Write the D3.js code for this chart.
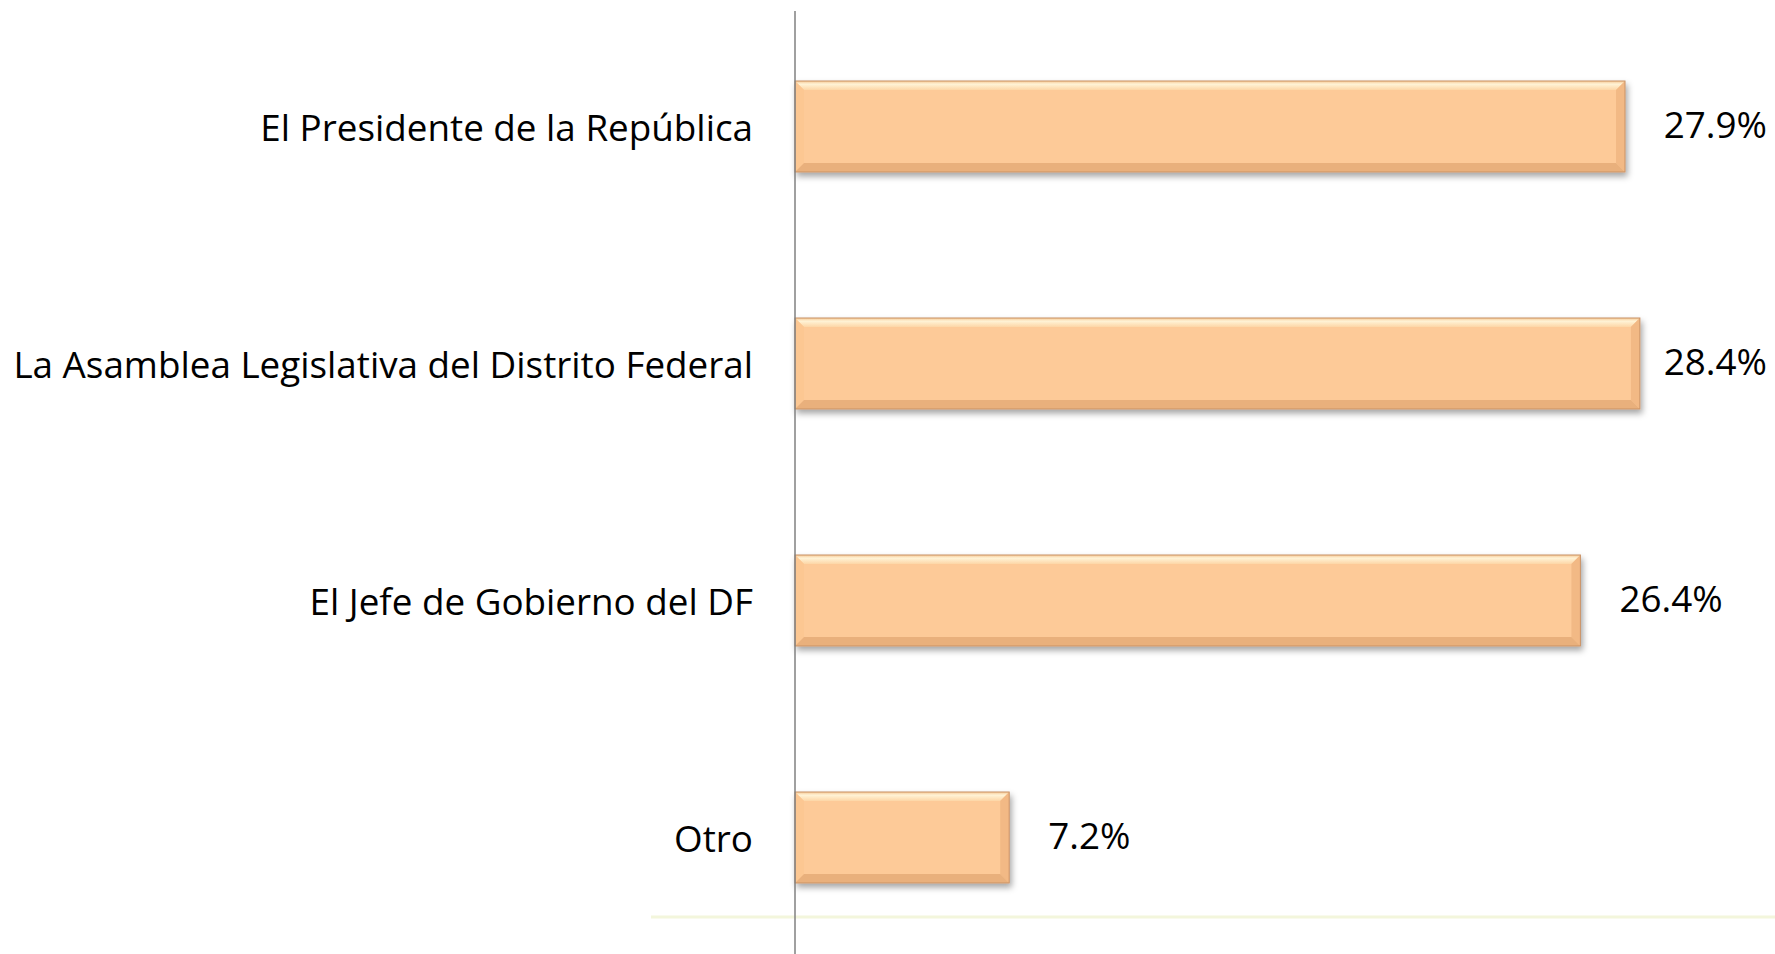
<!DOCTYPE html>
<html>
<head>
<meta charset="utf-8">
<script src="https://cdn.jsdelivr.net/npm/d3@7"></script>
<style>
  body { margin: 0; background: #fff; }
  svg { display: block; }
  text { font-family: "Open Sans", "Noto Sans", sans-serif; fill: #000; }
</style>
</head>
<body>
<div id="chart"></div>
<script>
const categories = ["El Presidente de la República", "La Asamblea Legislativa del Distrito Federal",
  "El Jefe de Gobierno del DF", "Otro"];
const values = [27.9, 28.4, 26.4, 7.2];
const valueLabels = ["27.9%", "28.4%", "26.4%", "7.2%"];

let width = 1775,
    height = 954,
    axis_x = 795,
    bevel = 9;

const svg = d3.select("#chart")
  .append("svg")
  .attr("width", width)
  .attr("height", height);

const defs = svg.append("defs");
const shadow = defs.append("filter").attr("id", "shadow")
  .attr("x", "-5%").attr("y", "-10%").attr("width", "115%").attr("height", "135%");
shadow.append("feDropShadow")
  .attr("dx", 2).attr("dy", 4).attr("stdDeviation", 3)
  .attr("flood-color", "#000").attr("flood-opacity", 0.35);

const topGrad = defs.append("linearGradient").attr("id", "topGrad")
  .attr("x1", 0).attr("y1", 0).attr("x2", 0).attr("y2", 1);
topGrad.append("stop").attr("offset", "0%").attr("stop-color", "#f6c894");
topGrad.append("stop").attr("offset", "35%").attr("stop-color", "#fff3d6");
topGrad.append("stop").attr("offset", "100%").attr("stop-color", "#fdd6a6");

// x scale: percent -> px
let x = d3.scaleLinear()
  .domain([0, 30])
  .range([axis_x, axis_x + 30 * 29.75]);

let y = d3.scaleBand()
  .domain(categories)
  .range([8, 956])
  .paddingInner(0.616)
  .paddingOuter(0.308);

// pale plot border at the bottom
svg.append("line")
  .attr("x1", 651).attr("x2", width)
  .attr("y1", 917).attr("y2", 917)
  .attr("stroke", "#f3f6dc")
  .attr("stroke-width", 3);

const bars = svg.append("g")
  .selectAll("g")
  .data(values)
  .join("g")
  .attr("filter", "url(#shadow)");

bars.each(function(d, i) {
  const g = d3.select(this);
  const x0 = x(0), x1 = x(d), y0 = y(categories[i]), y1 = y0 + y.bandwidth();
  const b = bevel;
  g.append("rect")
    .attr("x", x0).attr("y", y0)
    .attr("width", x1 - x0).attr("height", y1 - y0)
    .attr("fill", "#fdca98");
  // top facet
  g.append("polygon")
    .attr("points", [[x0, y0], [x1, y0], [x1 - b, y0 + b], [x0 + b, y0 + b]].join(" "))
    .attr("fill", "url(#topGrad)");
  // left facet
  g.append("polygon")
    .attr("points", [[x0, y0], [x0 + b, y0 + b], [x0 + b, y1 - b], [x0, y1]].join(" "))
    .attr("fill", "#fcc792");
  // right facet
  g.append("polygon")
    .attr("points", [[x1, y0], [x1, y1], [x1 - b, y1 - b], [x1 - b, y0 + b]].join(" "))
    .attr("fill", "#f2b985");
  // bottom facet
  g.append("polygon")
    .attr("points", [[x0, y1], [x0 + b, y1 - b], [x1 - b, y1 - b], [x1, y1]].join(" "))
    .attr("fill", "#e9b07c");
  g.append("rect")
    .attr("x", x0).attr("y", y0)
    .attr("width", x1 - x0).attr("height", y1 - y0)
    .attr("fill", "none")
    .attr("stroke", "#c99266")
    .attr("stroke-width", 1);
});

// vertical axis line
svg.append("line")
  .attr("x1", axis_x).attr("x2", axis_x)
  .attr("y1", 11).attr("y2", height)
  .attr("stroke", "#808080")
  .attr("stroke-width", 1.5);

// category labels
const catText = svg.append("g")
  .selectAll("text")
  .data(categories)
  .join("text")
  .attr("x", 753)
  .attr("y", d => y(d) + y.bandwidth() / 2)
  .attr("text-anchor", "end")
  .attr("dominant-baseline", "central")
  .style("font-size", "40px")
  .text(d => d);

// fit the longest label to the reference width
let longest = d3.max(catText.nodes(), n => n.getComputedTextLength());
let fs = 40 * 740 / longest;
catText.style("font-size", fs + "px");

// value labels
const valText = svg.append("g")
  .selectAll("text")
  .data(values)
  .join("text")
  .attr("y", (d, i) => y(categories[i]) + y.bandwidth() / 2 - 3)
  .attr("dominant-baseline", "central")
  .style("font-size", fs + "px")
  .text((d, i) => valueLabels[i]);

valText.attr("x", function(d) {
  const w = this.getComputedTextLength();
  return Math.min(x(d) + 39, width - 8 - w);
});
</script>
</body>
</html>
